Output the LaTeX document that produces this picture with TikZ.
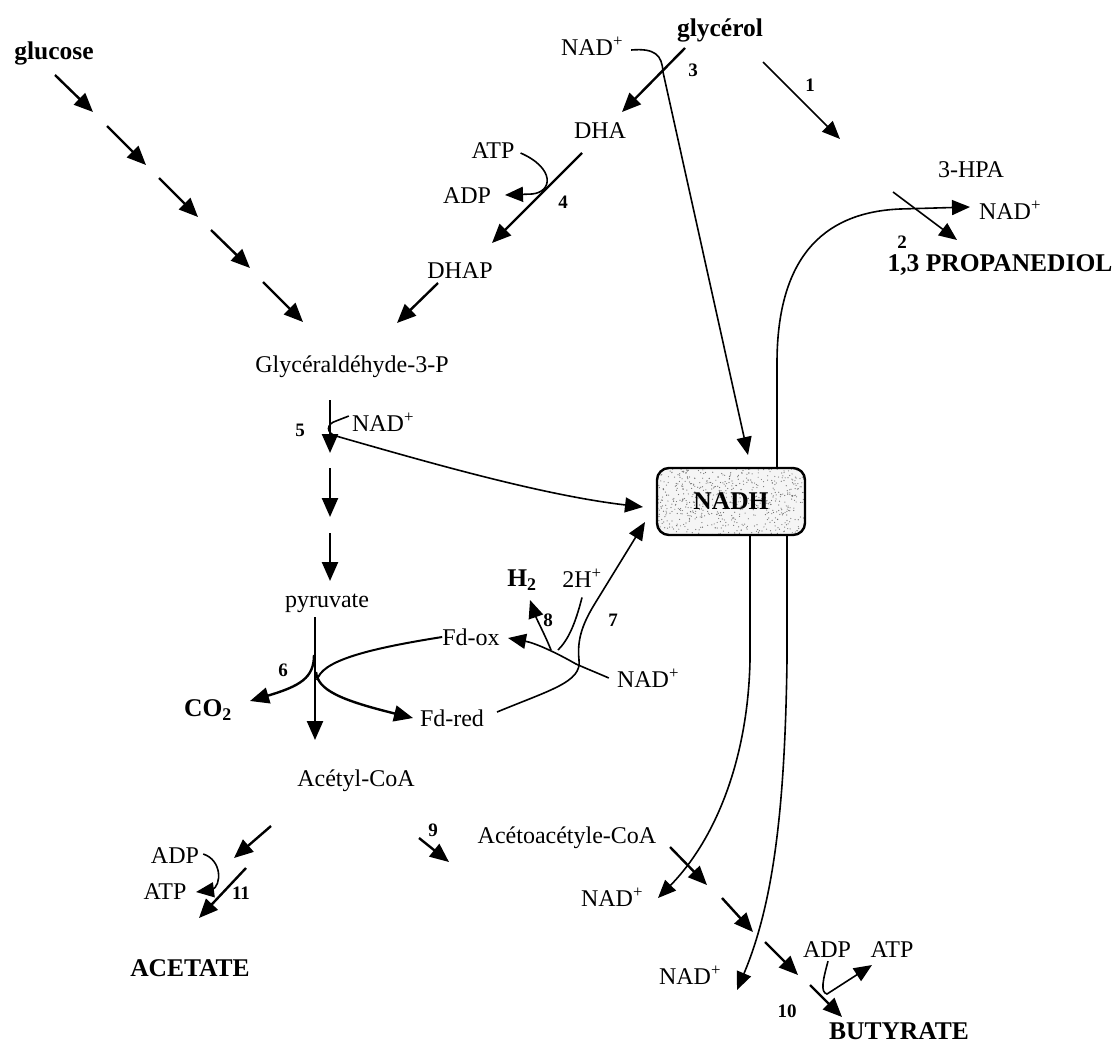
\documentclass[tikz,border=0pt]{standalone}
\usepackage{fontspec}
\setmainfont{Liberation Serif}
\usetikzlibrary{arrows.meta}
\newcommand\nadplus{NAD\textsuperscript{+}}
\begin{document}
\begin{tikzpicture}[x=1pt,y=-1pt,
  lbl/.style={font=\fontsize{24}{28}\selectfont, inner sep=0pt},
  blbl/.style={font=\fontsize{25.5}{30}\selectfont\bfseries, inner sep=0pt},
  num/.style={font=\fontsize{19}{22}\selectfont\bfseries, inner sep=0pt},
  main/.style={line width=2.4pt, -{Triangle[length=19pt,width=16pt]}},
  fine/.style={line width=1.6pt, -{Triangle[length=18pt,width=15pt]}},
  link/.style={line width=1.6pt},
]
\useasboundingbox (0,0) rectangle (1115,1045);

% ---------- metabolites and cofactors ----------
\node[blbl] (glucose) at (54,53) {glucose};
\node[blbl] (glycerol) at (720,30) {glycérol};
\node[lbl] (nadA) at (592,46) {\nadplus};
\node[num] (n3) at (693,70) {3};
\node[num] (n1) at (810,85) {1};
\node[lbl] (dha) at (600,131) {DHA};
\node[lbl] (hpa) at (971,170) {3-HPA};
\node[lbl] (atpA) at (493,151) {ATP};
\node[lbl] (adpA) at (467,196) {ADP};
\node[num] (n4) at (563,202) {4};
\node[lbl] (nadB) at (1010,210) {\nadplus};
\node[num] (n2) at (902,242) {2};
\node[blbl] (pdo) at (1000,265) {1,3 PROPANEDIOL};
\node[lbl] (dhap) at (460,271) {DHAP};
\node[lbl] (g3p) at (352,367) {Glycéraldéhyde-3-P};
\node[lbl] (nadC) at (383,422) {\nadplus};
\node[num] (n5) at (300,430) {5};
\node[blbl] (h2) at (522,580) {H\textsubscript{2}};
\node[lbl] (twoh) at (582,578) {2H\textsuperscript{+}};
\node[lbl] (pyr) at (327,603) {pyruvate};
\node[num] (n6) at (283,670) {6};
\node[lbl] (fdox) at (471,637) {Fd-ox};
\node[num] (n8) at (548,620) {8};
\node[num] (n7) at (613,620) {7};
\node[lbl] (nadD) at (648,678) {\nadplus};
\node[blbl] (co2) at (208,710) {CO\textsubscript{2}};
\node[lbl] (fdred) at (452,718) {Fd-red};
\node[lbl] (acoa) at (356,781) {Acétyl-CoA};
\node[num] (n9) at (433,830) {9};
\node[lbl] (aacoa) at (567,838) {Acétoacétyle-CoA};
\node[lbl] (adpB) at (175,856) {ADP};
\node[lbl] (atpB) at (165,892) {ATP};
\node[num] (n11) at (241,893) {11};
\node[blbl] (acetate) at (190,968) {ACETATE};
\node[lbl] (nadE) at (612,897) {\nadplus};
\node[lbl] (adpC) at (827,950) {ADP};
\node[lbl] (atpC) at (892,950) {ATP};
\node[lbl] (nadF) at (690,975) {\nadplus};
\node[num] (n10) at (787,1011) {10};
\node[blbl] (butyrate) at (899,1031) {BUTYRATE};

% ---------- NADH pool (stippled rounded box) ----------
\begin{scope}
  \clip[rounded corners=12pt] (657,468) rectangle (805,535);
  \fill[gray!8] (657,468) rectangle (805,535);
  \pgfmathsetseed{11}
  \foreach \i in {1,...,650}
    \fill[black!55] ({657+148*rnd},{468+67*rnd}) circle[radius=0.6];
\end{scope}
\node[draw, line width=2.4pt, rounded corners=12pt, minimum width=148pt,
      minimum height=67pt, font=\fontsize{25.5}{30}\selectfont\bfseries]
      (nadh) at (731,501.5) {NADH};

% ---------- end points of the reaction arrows ----------
\coordinate (ga1) at (55,75);   \coordinate (gb1) at (93,112);
\coordinate (ga2) at (107,126); \coordinate (gb2) at (146,165);
\coordinate (ga3) at (159,178); \coordinate (gb3) at (198,217);
\coordinate (ga4) at (211,230); \coordinate (gb4) at (250,268);
\coordinate (ga5) at (263,282); \coordinate (gb5) at (303,322);
\coordinate (dhapOut) at (438,283); \coordinate (g3pIn) at (397,323);
\coordinate (glyA) at (685,48);  \coordinate (dhaIn) at (622,112);
\coordinate (glyB) at (763,62);  \coordinate (hpaIn) at (840,139);
\coordinate (dhaOut) at (582,153); \coordinate (dhapIn) at (492,243);
\coordinate (hpaOut) at (893,192); \coordinate (pdoIn) at (957,240);
\coordinate (nadhTopIn) at (748,455);
\coordinate (nadhTopOut) at (777,468);
\coordinate (nadBIn) at (970,207);
\coordinate (g3pOut) at (330,400); \coordinate (s1) at (330,453);
\coordinate (s2a) at (330,468); \coordinate (s2b) at (330,517);
\coordinate (s3a) at (330,533); \coordinate (s3b) at (330,581);
\coordinate (nadhLeftA) at (643,507);
\coordinate (nadhLeftB) at (645,522);
\coordinate (pyrOut) at (315,617); \coordinate (acoaIn) at (315,740);
\coordinate (co2In) at (250,701);
\coordinate (fdredIn) at (413,718);
\coordinate (fdredOut) at (497,712);
\coordinate (fdoxIn) at (508,638);
\coordinate (h2In) at (530,600);
\coordinate (nadhBotA) at (750,535);
\coordinate (nadhBotB) at (787,535);
\coordinate (nadEIn) at (658,898);
\coordinate (nadFIn) at (737,990);
\coordinate (b1a) at (670,847); \coordinate (b1b) at (707,885);
\coordinate (b2a) at (722,898); \coordinate (b2b) at (753,932);
\coordinate (b3a) at (765,942); \coordinate (b3b) at (798,975);
\coordinate (b4a) at (810,985); \coordinate (b4b) at (842,1017);
\coordinate (atpCIn) at (872,965);
\coordinate (acoaOutL) at (271,826); \coordinate (acL) at (234,858);
\coordinate (a11a) at (246,868); \coordinate (a11b) at (199,918);
\coordinate (atpBIn) at (196,892);
\coordinate (acoaOutR) at (419,838); \coordinate (aacoaIn) at (449,862);

% ---------- glycolysis from glucose ----------
\draw[main] (ga1) -- (gb1);
\draw[main] (ga2) -- (gb2);
\draw[main] (ga3) -- (gb3);
\draw[main] (ga4) -- (gb4);
\draw[main] (ga5) -- (gb5);

% ---------- glycerol oxidative branch ----------
\draw[main] (glyA) -- (dhaIn);
\draw[main] (dhaOut) -- (dhapIn);
\draw[main] (dhapOut) -- (g3pIn);
\draw[fine] (atpA.east) ++(6,2) .. controls (555,168) and (553,192) .. (532,194) -- (505,195);
\draw[fine] (nadA.east) ++(8,4) .. controls (655,48) and (662,55) .. (663,72) -- (nadhTopIn);

% ---------- glycerol reductive branch ----------
\draw[fine] (glyB) -- (hpaIn);
\draw[fine] (hpaOut) -- (pdoIn);
\draw[fine] (nadhTopOut) -- (777,360) .. controls (778,250) and (830,212) .. (900,209) -- (nadBIn);

% ---------- lower glycolysis ----------
\draw[main] (g3pOut) -- (s1);
\draw[main] (s2a) -- (s2b);
\draw[main] (s3a) -- (s3b);
\draw[fine] (nadC.west) ++(-3,-6) -- (336,421) .. controls (326,424) and (326,433) .. (336,436)
      .. controls (420,460) and (540,495) .. (nadhLeftA);

% ---------- pyruvate node ----------
\draw[main] (pyrOut) -- (acoaIn);
\draw[main] (314,655) .. controls (314,678) and (300,686) .. (co2In);
\draw[main] (316,672) .. controls (318,690) and (340,700) .. (fdredIn);
\draw[line width=2pt] (317,680) .. controls (322,662) and (360,650) .. (fdox.west);

% ---------- ferredoxin / hydrogenase ----------
\draw[fine] (fdredOut) .. controls (550,690) and (582,682) .. (579,660)
      .. controls (577,640) and (582,625) .. (594,605) -- (nadhLeftB);
\draw[fine] (nadD.west) ++(-8,0) .. controls (595,672) and (585,668) .. (576,664)
      .. controls (555,652) and (535,643) .. (fdoxIn);
\draw[link] (twoh.south) ++(0,10) .. controls (575,625) and (568,640) .. (558,650);
\draw[fine] (551,650) .. controls (545,635) and (537,620) .. (h2In);

% ---------- NADH reoxidation towards butyrate ----------
\draw[fine] (nadhBotA) -- (750,660) .. controls (748,760) and (715,840) .. (nadEIn);
\draw[fine] (nadhBotB) -- (787,660) .. controls (785,800) and (775,900) .. (nadFIn);

% ---------- butyrate branch ----------
\draw[main] (acoaOutR) -- (aacoaIn);
\draw[main] (b1a) -- (b1b);
\draw[main] (b2a) -- (b2b);
\draw[main] (b3a) -- (b3b);
\draw[main] (b4a) -- (b4b);
\draw[fine] (adpC.south) ++(1,3) .. controls (823,980) and (820,992) .. (827,994) -- (atpCIn);

% ---------- acetate branch ----------
\draw[main] (acoaOutL) -- (acL);
\draw[main] (a11a) -- (a11b);
\draw[fine] (adpB.east) ++(4,-2) .. controls (222,860) and (222,885) .. (212,890) -- (atpBIn);

\end{tikzpicture}
\end{document}
